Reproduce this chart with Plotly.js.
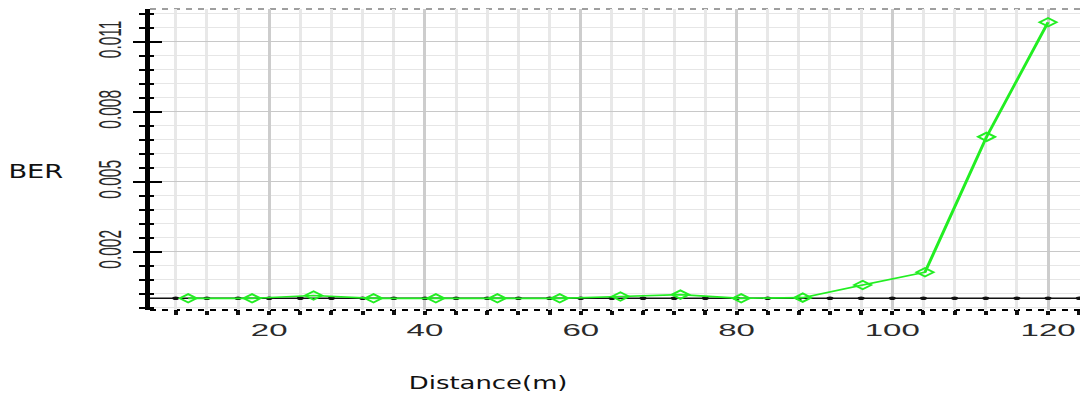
<!DOCTYPE html>
<html>
<head>
<meta charset="utf-8">
<script src="https://cdn.plot.ly/plotly-3.0.1.min.js"></script>
<style>
html,body{margin:0;padding:0;overflow:hidden;background:#fff;}
#chart{width:1080px;height:396px;overflow:hidden;position:relative;}
</style>
</head>
<body>
<div id="chart"></div>
<script>
// Green series (BER vs distance)
const distance = [9.6, 17.8, 25.7, 33.4, 41.4, 49.3, 57.3, 65.1, 72.8, 80.6, 88.5, 96.2, 104.2, 112.1, 120];
const ber = [0, 0, 0.00012, 0, 0, 0, 0, 0.00008, 0.00016, 0, 0.00003, 0.00057, 0.00112, 0.00692, 0.01183];

// Black reference series lying on zero
const refDistance = [4, 8, 12, 16, 20, 24, 28, 32, 36, 40, 44, 48, 52, 56, 60, 64, 68, 72, 76, 80, 84, 88, 92, 96, 100, 104, 108, 112, 116, 120, 124];
const refBer = [0, 0, 0, 0, 0, 0, 0, 0, 0, 0, 0, 0, 0, 0, 0, 0, 0, 0, 0, 0, 0, 0, 0, 0, 0, 0, 0, 0, 0, 0, 0];

// Tick labels
const xTickVals = [20, 40, 60, 80, 100, 120];
const xTickText = ['20', '40', '60', '80', '100', '120'];
const yTickVals = [0.002, 0.005, 0.008, 0.011];
const yTickText = ['0.002', '0.005', '0.008', '0.011'];

const xRange = [4.7, 124.1];
const yRange = [-0.0005, 0.0124];

const data = [
  {
    x: refDistance, y: refBer, yaxis: 'y', type: 'scatter', mode: 'lines+markers',
    line: {color: '#111', width: 1.5},
    marker: {size: 3.5, color: '#111'},
    hoverinfo: 'skip'
  },
  {
    x: distance, y: ber, yaxis: 'y2', type: 'scatter', mode: 'lines+markers',
    line: {color: '#22ee22', width: 1.6},
    marker: {symbol: 'diamond-open', size: 6.5, color: '#22ee22', line: {width: 1.5, color: '#22ee22'}},
    hoverinfo: 'skip'
  }
];

const layout = {
  width: 1080, height: 396,
  margin: {l: 75, r: 540, t: 9, b: 86, pad: 0},
  paper_bgcolor: '#ffffff', plot_bgcolor: '#ffffff',
  showlegend: false,
  font: {family: 'Liberation Sans, Arial, sans-serif', size: 16, color: '#2a2a2a'},
  xaxis: {
    range: xRange, tickmode: 'array', tickvals: xTickVals, ticktext: xTickText,
    ticks: '', showline: false, zeroline: false,
    showgrid: true, gridcolor: '#cdcdcd', gridwidth: 1.5,
    tickfont: {family: 'Liberation Sans, Arial, sans-serif', size: 16.5, color: '#2a2a2a'},
    ticklabelstandoff: 9,
    minor: {tickmode: 'linear', tick0: 0, dtick: 4, showgrid: true, gridcolor: '#e8e8e8', gridwidth: 1.5,
            ticks: 'outside', ticklen: 4, tickwidth: 2, tickcolor: '#111'}
  },
  yaxis: {
    range: yRange, tickmode: 'array', tickvals: yTickVals, ticktext: yTickText, tickangle: -90,
    ticks: 'outside', ticklen: 6, tickwidth: 2, tickcolor: '#000',
    showline: true, linewidth: 2.5, linecolor: '#000', zeroline: false,
    showgrid: true, gridcolor: '#c8c8c8', gridwidth: 1.5,
    tickfont: {family: 'Liberation Sans, Arial, sans-serif', size: 15.5, color: '#2a2a2a'},
    minor: {tickmode: 'linear', tick0: 0.002, dtick: 0.0006, ticks: 'outside', ticklen: 3, tickwidth: 2,
            tickcolor: '#000', showgrid: true, gridcolor: '#e6e6e6', gridwidth: 1.2}
  },
  yaxis2: {
    overlaying: 'y', anchor: 'x', side: 'left', range: yRange,
    tickmode: 'array', tickvals: yTickVals, ticktext: yTickText, showticklabels: false,
    ticks: 'inside', ticklen: 6, tickwidth: 2, tickcolor: '#000',
    showgrid: false, zeroline: false, showline: false,
    minor: {tickmode: 'linear', tick0: 0.002, dtick: 0.0006, ticks: 'inside', ticklen: 2, tickwidth: 2,
            tickcolor: '#000', showgrid: false}
  },
  shapes: [
    {type: 'line', xref: 'paper', yref: 'paper', x0: 0, x1: 1, y0: 0, y1: 0, layer: 'below',
     line: {color: '#000', width: 2, dash: 'dot'}},
    {type: 'line', xref: 'paper', yref: 'paper', x0: 0, x1: 1, y0: 1, y1: 1, layer: 'below',
     line: {color: '#808080', width: 1.5, dash: 'dot'}}
  ],
  annotations: [
    {xref: 'paper', yref: 'paper', x: -0.1075, y: 0.4585, xanchor: 'center', yanchor: 'middle',
     text: 'BER', showarrow: false, font: {family: 'DejaVu Sans, Verdana, sans-serif', size: 19.5, color: '#111'}},
    {xref: 'paper', yref: 'paper', x: 0.5884, y: -0.2425, xanchor: 'center', yanchor: 'middle',
     text: 'Distance(m)', showarrow: false, font: {family: 'DejaVu Sans, Verdana, sans-serif', size: 18.5, color: '#111'}}
  ]
};

Plotly.newPlot('chart', data, layout, {staticPlot: true, displayModeBar: false}).then(function(gd) {
  const svgs = gd.querySelectorAll('.main-svg');
  if (svgs[0]) { svgs[0].style.transformOrigin = '0 0'; svgs[0].style.transform = 'scaleX(2)'; }
  if (svgs[1]) { svgs[1].style.transformOrigin = '0 0'; svgs[1].style.transform = 'scaleX(1.4)'; }
});
</script>
</body>
</html>
